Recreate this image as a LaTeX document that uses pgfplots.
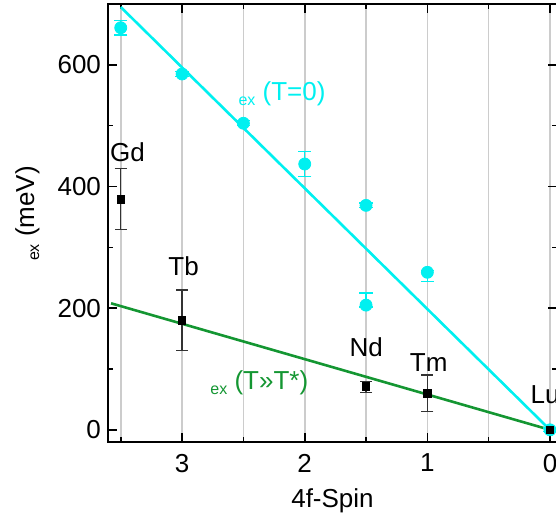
\documentclass[border=0pt]{standalone}
\usepackage{fontspec}
\setmainfont{Liberation Sans}
\usepackage{pgfplots}
\pgfplotsset{compat=1.18}
\definecolor{cyanline}{RGB}{0,240,240}
\definecolor{greenline}{RGB}{20,150,50}
\newcommand{\sub}[1]{\raisebox{-2.5pt}{\fontsize{8}{8}\selectfont #1}}
\begin{document}
\begin{tikzpicture}
\useasboundingbox (-54pt,-42.5pt) rectangle (224pt,221pt);
\clip (-54pt,-42.5pt) rectangle (224pt,221pt);
\begin{axis}[
  at={(0pt,0pt)}, anchor=south west,
  scale only axis, width=224.5pt, height=219pt,
  x dir=reverse, xmin=-0.057, xmax=3.604, ymin=-20, ymax=700,
  xtick={0,1,2,3}, xticklabels={0,1,2,3}, minor xtick={0.5,1.5,2.5,3.5},
  ytick={0,200,400,600}, yticklabels={0,200,400,600}, minor ytick={100,300,500},
  xmajorgrids, xminorgrids, grid style={gray!40, line width=0.8pt},
  tick align=inside, major tick length=4.3pt, minor tick length=2.5pt,
  tick style={black, line width=0.8pt},
  axis line style={line width=1pt},
  tick label style={font=\fontsize{13}{15}\selectfont},
  xticklabel style={yshift=-2.5pt},
  label style={font=\fontsize{13}{15}\selectfont},
  xlabel={4f-Spin},
  xlabel style={at={(axis description cs:0.5,-0.1347)}, anchor=center},
  ylabel={\sub{ex} (meV)},
  ylabel style={at={(axis description cs:-0.1793,0.5217)}, anchor=center},
]
% fitted lines
\addplot[cyanline, line width=1.3pt] coordinates {(3.5,695) (0,0)};
\addplot[greenline, line width=1.3pt] coordinates {(3.579,208) (0,0)};

% T = 0 values
\addplot[only marks, mark=*, mark size=3pt, color=cyanline,
  mark options={fill=cyanline, draw=cyanline},
  error bars/.cd, y dir=both, y explicit,
  error bar style={line width=0.6pt},
  error mark options={rotate=90, mark size=3.3pt, line width=0.6pt}]
coordinates {
(3.5,661) += (0,12) -= (0,12)
(3,585) += (0,4) -= (0,4)
(2.5,504) += (0,4) -= (0,4)
(2,437) += (0,20) -= (0,20)
(1.5,369) += (0,4) -= (0,4)
(1.5,205) += (0,20) -= (0,3)
(1,259) += (0,3) -= (0,15)
(0,0) += (0,3) -= (0,3)
};

% T >> T* values
\addplot[only marks, mark=square*, mark size=1.9pt, color=black,
  error bars/.cd, y dir=both, y explicit,
  error bar style={line width=0.6pt, black!80},
  error mark options={rotate=90, mark size=3pt, line width=0.6pt, black!80}]
coordinates {
(3.5,379) += (0,50) -= (0,50)
(3,180) += (0,50) -= (0,50)
(1.5,71) += (0,9) -= (0,9)
(1,60) += (0,30) -= (0,30)
(0,0) += (0,3) -= (0,3)
};

\node[font=\fontsize{13}{15}\selectfont, inner sep=0] at (axis cs:3.445,456) {Gd};
\node[font=\fontsize{13}{15}\selectfont, inner sep=0] at (axis cs:2.988,269.5) {Tb};
\node[font=\fontsize{13}{15}\selectfont, inner sep=0] at (axis cs:1.499,136) {Nd};
\node[font=\fontsize{13}{15}\selectfont, inner sep=0] at (axis cs:0.989,110) {Tm};
\node[font=\fontsize{13}{15}\selectfont, inner sep=0, anchor=west] at (axis cs:0.1615,57.5) {Lu};
\node[font=\fontsize{13}{15}\selectfont, inner sep=0, anchor=base west, text=cyanline] at (axis cs:2.543,540.6) {\sub{ex} (T=0)};
\node[font=\fontsize{13}{15}\selectfont, inner sep=0, anchor=base west, text=greenline] at (axis cs:2.772,65.7) {\sub{ex} (T»T*)};
\end{axis}
\end{tikzpicture}
\end{document}
